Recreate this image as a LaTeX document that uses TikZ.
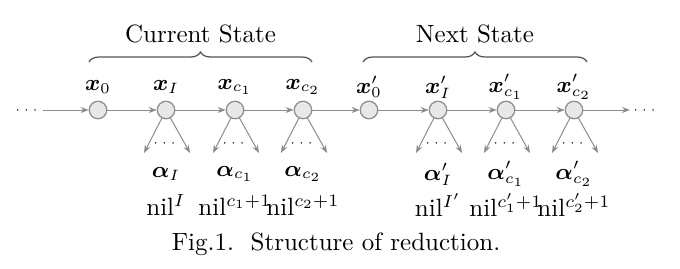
\documentclass[tikz,border=0pt]{standalone}
\usepackage{amsmath,amssymb,bm}
\usepackage{xcolor}
\usetikzlibrary{positioning, calc, arrows.meta, decorations.pathreplacing}
\definecolor{edgegray}{HTML}{8C8C8C}
\definecolor{nodefill}{HTML}{E8E8E8}
\definecolor{bracegray}{HTML}{555555}

\begin{document}
\begin{tikzpicture}[x=0.4pt, y=-0.4pt,
    state/.style={circle, draw=edgegray, fill=nodefill, line width=0.5pt, minimum size=7pt, inner sep=0pt},
    flow/.style={draw=edgegray, line width=0.4pt, -{Stealth[length=3.2pt, width=2.4pt]}},
    dotsnode/.style={font=\tiny, inner sep=0pt},
    varlabel/.style={font=\small, inner sep=0pt},
    leaf/.style={inner sep=0pt},
    statebrace/.style={draw=bracegray, line width=0.5pt, decorate, decoration={brace, amplitude=4pt}}]

    \useasboundingbox (0,0) rectangle (680,268);

    % Dots at both ends of the chain
    \node[dotsnode] (ldots) at (28,110) {$\cdots$};
    \coordinate (lstart) at (43,110);
    \coordinate (rend) at (630,110);
    \node[dotsnode] (rdots) at (646,110) {$\cdots$};

    % Chain of states: current (x) and next (x')
    \foreach \name/\px/\lab in {n0/98/{\bm{x}_0}, nI/166/{\bm{x}_I}, nc1/235/{\bm{x}_{c_1}}, nc2/303/{\bm{x}_{c_2}},
                                m0/369/{\bm{x}'_0}, mI/438/{\bm{x}'_I}, mc1/506/{\bm{x}'_{c_1}}, mc2/574/{\bm{x}'_{c_2}}} {
        \node[state] (\name) at (\px,110) {};
        \node[varlabel] (\name-lab) at (\px,87) {$\lab$};
    }

    % Horizontal arrows along the chain
    \draw[flow] (lstart) -- (n0);
    \foreach \a/\b in {n0/nI, nI/nc1, nc1/nc2, nc2/m0, m0/mI, mI/mc1, mc1/mc2}
        \draw[flow] (\a) -- (\b);
    \draw[flow] (mc2) -- (rend);

    % Branches below each state with an alpha label and a nil label
    \foreach \name/\px/\alab/\nlab in {nI/166/{\bm{\alpha}_I}/{I}, nc1/235/{\bm{\alpha}_{c_1}}/{c_1+1}, nc2/303/{\bm{\alpha}_{c_2}}/{c_2+1},
                                      mI/438/{\bm{\alpha}'_I}/{I'}, mc1/506/{\bm{\alpha}'_{c_1}}/{c'_1+1}, mc2/574/{\bm{\alpha}'_{c_2}}/{c'_2+1}} {
        \coordinate (\name-l) at (\px-22,153);
        \coordinate (\name-r) at (\px+24,153);
        \draw[flow] (\name) -- (\name-l);
        \draw[flow] (\name) -- (\name-r);
        \node[dotsnode] (\name-dots) at (\px,143) {$\cdots$};
        \node[varlabel] (\name-alpha) at (\px,174) {$\alab$};
        \node[leaf] (\name-nil) at (\px,205) {nil$^{\nlab}$};
    }

    % Braces over the two states
    \draw[statebrace] (89,62) -- (312,62) node[midway, above=4pt, text=black] (cur) {Current State};
    \draw[statebrace] (363,62) -- (587,62) node[midway, above=4pt, text=black] (nxt) {Next State};

    % Caption
    \node (caption) at (336,244) {Fig.1.\ \ Structure of reduction.};

\end{tikzpicture}
\end{document}
